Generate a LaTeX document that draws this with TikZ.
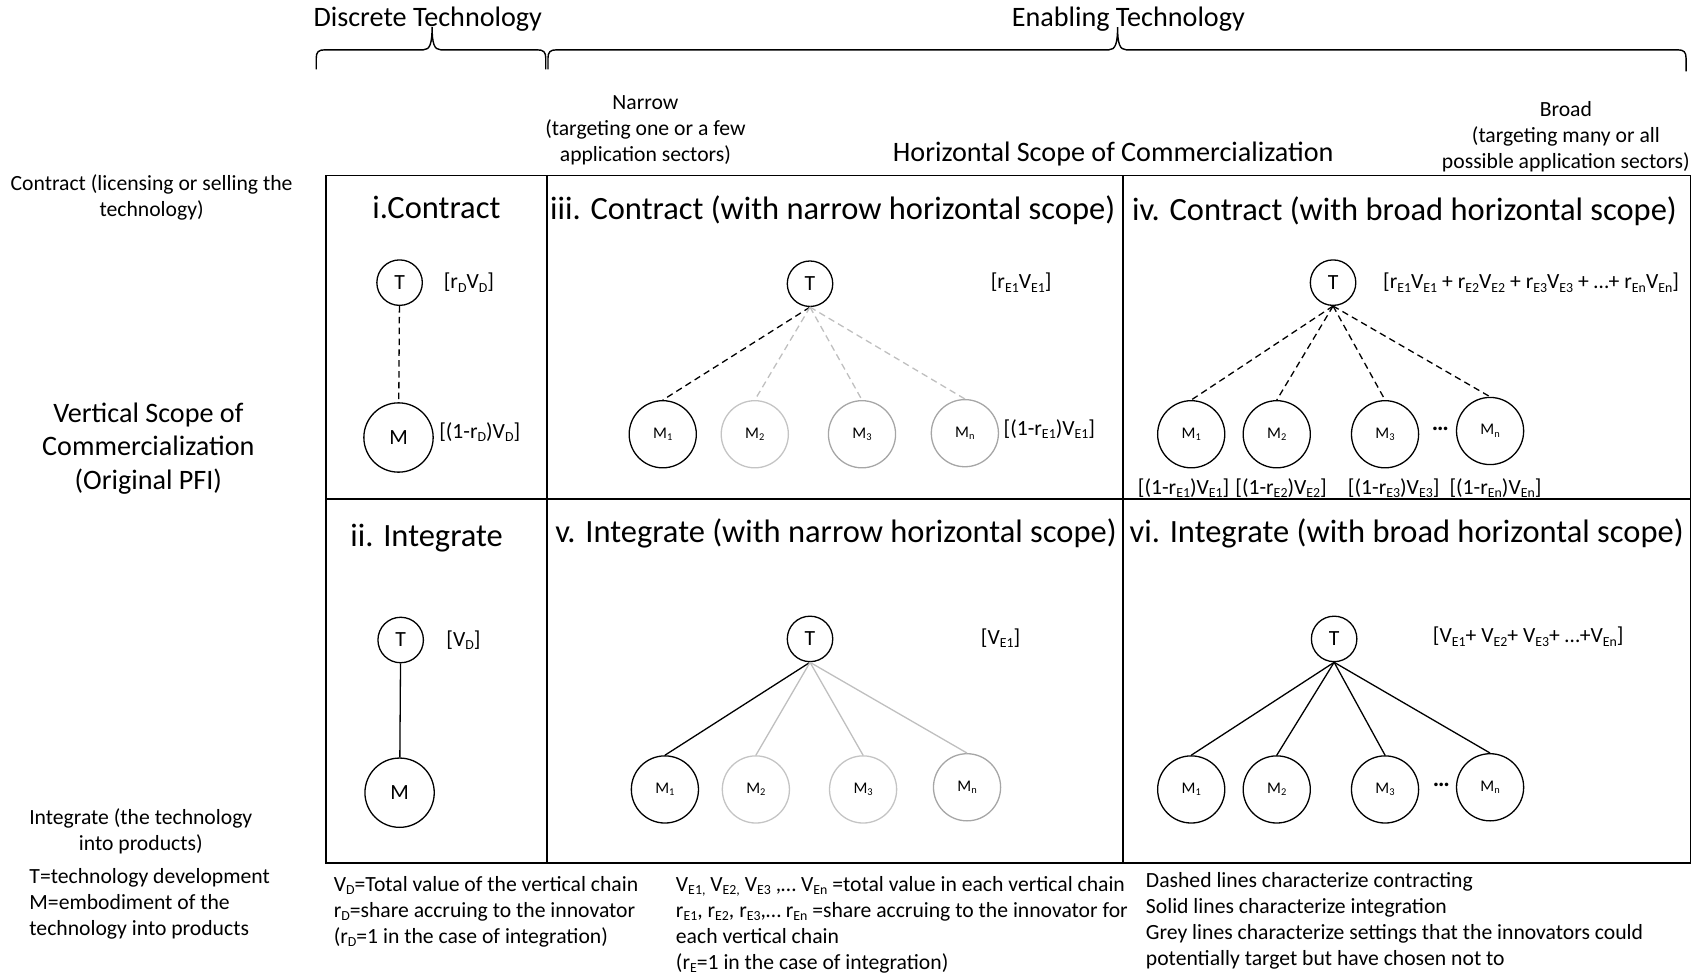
\documentclass[tikz,border=0pt]{standalone}
\usepackage{fontspec}
\usepackage{graphicx}
\setmainfont{Carlito}
\newcommand{\sbs}[1]{\raisebox{-0.32ex}{\scalebox{0.64}{#1}}}
\definecolor{lgrey}{HTML}{C4C4C4}
\definecolor{mgrey}{HTML}{A6A6A6}
\definecolor{lline}{HTML}{BFBFBF}
\begin{document}
\begin{tikzpicture}[x=1pt,y=-1pt,
  body/.style={font=\fontsize{20}{24}\selectfont, inner sep=0pt},
  big/.style={font=\fontsize{26}{31}\selectfont, inner sep=0pt, align=center},
  ttl/.style={font=\fontsize{30}{36}\selectfont, inner sep=0pt},
  tnode/.style={circle, draw, line width=1.2pt, minimum size=42pt, inner sep=0pt, font=\fontsize{20}{24}\selectfont},
  mnode/.style={circle, draw, line width=1.2pt, minimum size=64pt, inner sep=0pt, font=\fontsize{20}{24}\selectfont},
  msm/.style={circle, draw, line width=1.2pt, minimum size=62pt, inner sep=0pt, font=\fontsize{15}{18}\selectfont},
  contr/.style={line width=1.2pt, dash pattern=on 6pt off 4pt},
  integ/.style={line width=1.2pt},
  grid/.style={line width=1.6pt},
  brc/.style={line width=1.3pt},
  dots/.style={inner sep=0pt, font=\fontsize{22}{24}\selectfont\bfseries}
]
\useasboundingbox (0,0) rectangle (1568,900);

% braces
\draw[brc] (292,64) -- (292,54) .. controls (292,48) and (294,46) .. (300,46) -- (391,46) .. controls (397,46) and (399,40) .. (399,25) .. controls (399,40) and (401,46) .. (407,46) -- (496,46) .. controls (502,46) and (504,48) .. (504,54) -- (504,64);
\draw[brc] (506,64) -- (506,54) .. controls (506,48) and (508,46) .. (514,46) -- (1024,46) .. controls (1030,46) and (1032,40) .. (1032,25) .. controls (1032,40) and (1034,46) .. (1040,46) -- (1549,46) .. controls (1555,46) and (1557,48) .. (1557,54) -- (1557,66);

% top labels
\node[big] (disc) at (395,18) {Discrete Technology};
\node[big] (enab) at (1042,18) {Enabling Technology};
\node[body, align=center] (narrow) at (596,120) {Narrow\\(targeting one or a few\\application sectors)};
\node[big] (hscope) at (1028,142) {Horizontal Scope of Commercialization};
\node[body, align=center] (broad) at (1446,126) {Broad\\(targeting many or all\\possible application sectors)};

% left labels
\node[body, align=center] (lcon) at (140,182) {Contract (licensing or selling the\\technology)};
\node[big] (vscope) at (137,414) {Vertical Scope of\\Commercialization\\(Original PFI)};
\node[body, align=center] (lint) at (130,768) {Integrate (the technology\\into products)};
\node[body, align=left, anchor=west] (legTM) at (27,835) {T=technology development\\M=embodiment of the\\technology into products};

% grid
\draw[grid] (301,162) rectangle (1561,797);
\draw[grid] (301,461) -- (1561,461);
\draw[grid] (505,162) -- (505,797);
\draw[grid] (1037,162) -- (1037,797);

% titles
\node[ttl] (t1) at (403,192) {i.Contract};
\node[ttl] (t3) at (769,194) {iii. Contract (with narrow horizontal scope)};
\node[ttl] (t4) at (1297,195) {iv. Contract (with broad horizontal scope)};
\node[ttl] (t2) at (394,497) {ii. Integrate};
\node[ttl] (t5) at (772,493) {v. Integrate (with narrow horizontal scope)};
\node[ttl] (t6) at (1299,493) {vi. Integrate (with broad horizontal scope)};

% cell i
\node[tnode] (iT) at (369,261) {T};
\node[mnode] (iM) at (368,404) {M};
\draw[contr] (iT) -- (iM);
\node[body] (iTl) at (433,261) {[r\sbs{D}V\sbs{D}]};
\node[body] (iMl) at (443,399) {[(1-r\sbs{D})V\sbs{D}]};

% cell ii
\node[tnode] (iiT) at (370,591) {T};
\node[mnode] (iiM) at (369,732) {M};
\draw[integ] (iiT) -- (iiM);
\node[body] (iiTl) at (428,591) {[V\sbs{D}]};

% cell iii
\node[tnode] (iiiT) at (748,262) {T};
\node[msm] (iiiM1) at (612,401) {M\sbs{1}};
\node[msm, draw=lgrey] (iiiM2) at (697,401) {M\sbs{2}};
\node[msm, draw=mgrey] (iiiM3) at (796,401) {M\sbs{3}};
\node[msm, draw=mgrey] (iiiMn) at (891,400) {M\sbs{n}};
\draw[contr] (iiiT.south) -- (iiiM1.north);
\draw[contr, lline] (iiiT.south) -- (iiiM2.north);
\draw[contr, lline] (iiiT.south) -- (iiiM3.north);
\draw[contr, lline] (iiiT.south) -- (iiiMn.north);
\node[body] (iiiTl) at (943,261) {[r\sbs{E1}V\sbs{E1}]};
\node[body] (iiiMl) at (969,396) {[(1-r\sbs{E1})V\sbs{E1}]};

% cell iv
\node[tnode] (ivT) at (1231,261) {T};
\node[msm] (ivM1) at (1100,401) {M\sbs{1}};
\node[msm] (ivM2) at (1179,401) {M\sbs{2}};
\node[msm] (ivM3) at (1279,401) {M\sbs{3}};
\node[msm] (ivMn) at (1376,398) {M\sbs{n}};
\node[dots] (ivdots) at (1330,396) {…};
\draw[contr] (ivT.south) -- (ivM1.north);
\draw[contr] (ivT.south) -- (ivM2.north);
\draw[contr] (ivT.south) -- (ivM3.north);
\draw[contr] (ivT.south) -- (ivMn.north);
\node[body, anchor=west] (ivTl) at (1277,261) {[r\sbs{E1}V\sbs{E1} + r\sbs{E2}V\sbs{E2} + r\sbs{E3}V\sbs{E3} + …+ r\sbs{En}V\sbs{En}]};
\node[body] (ivM1l) at (1093,451) {[(1-r\sbs{E1})V\sbs{E1}]};
\node[body] (ivM2l) at (1183,451) {[(1-r\sbs{E2})V\sbs{E2}]};
\node[body] (ivM3l) at (1287,451) {[(1-r\sbs{E3})V\sbs{E3}]};
\node[body] (ivMnl) at (1381,451) {[(1-r\sbs{En})V\sbs{En}]};

% cell v
\node[tnode] (vT) at (748,590) {T};
\node[msm] (vM1) at (614,729) {M\sbs{1}};
\node[msm, draw=lgrey] (vM2) at (698,729) {M\sbs{2}};
\node[msm, draw=lgrey] (vM3) at (797,729) {M\sbs{3}};
\node[msm, draw=mgrey] (vMn) at (893,727) {M\sbs{n}};
\draw[integ] (vT.south) -- (vM1.north);
\draw[integ, lline] (vT.south) -- (vM2.north);
\draw[integ, lline] (vT.south) -- (vM3.north);
\draw[integ, lline] (vT.south) -- (vMn.north);
\node[body] (vTl) at (924,589) {[V\sbs{E1}]};

% cell vi
\node[tnode] (viT) at (1232,590) {T};
\node[msm] (viM1) at (1100,729) {M\sbs{1}};
\node[msm] (viM2) at (1179,729) {M\sbs{2}};
\node[msm] (viM3) at (1279,729) {M\sbs{3}};
\node[msm] (viMn) at (1376,727) {M\sbs{n}};
\node[dots] (vidots) at (1331,725) {…};
\draw[integ] (viT.south) -- (viM1.north);
\draw[integ] (viT.south) -- (viM2.north);
\draw[integ] (viT.south) -- (viM3.north);
\draw[integ] (viT.south) -- (viMn.north);
\node[body, anchor=west] (viTl) at (1323,588) {[V\sbs{E1}+ V\sbs{E2}+ V\sbs{E3}+ …+V\sbs{En}]};

% bottom notes
\node[body, align=left, anchor=west] (noteD) at (308,842) {V\sbs{D}=Total value of the vertical chain\\r\sbs{D}=share accruing to the innovator\\(r\sbs{D}=1 in the case of integration)};
\node[body, align=left, anchor=west] (noteE) at (624,854) {V\sbs{E1,} V\sbs{E2,} V\sbs{E3} ,… V\sbs{En} =total value in each vertical chain\\r\sbs{E1}, r\sbs{E2}, r\sbs{E3},… r\sbs{En} =share accruing to the innovator for\\each vertical chain\\(r\sbs{E}=1 in the case of integration)};
\node[body, align=left, anchor=west] (noteL) at (1058,850) {Dashed lines characterize contracting\\Solid lines characterize integration\\Grey lines characterize settings that the innovators could\\potentially target but have chosen not to};
\end{tikzpicture}
\end{document}
